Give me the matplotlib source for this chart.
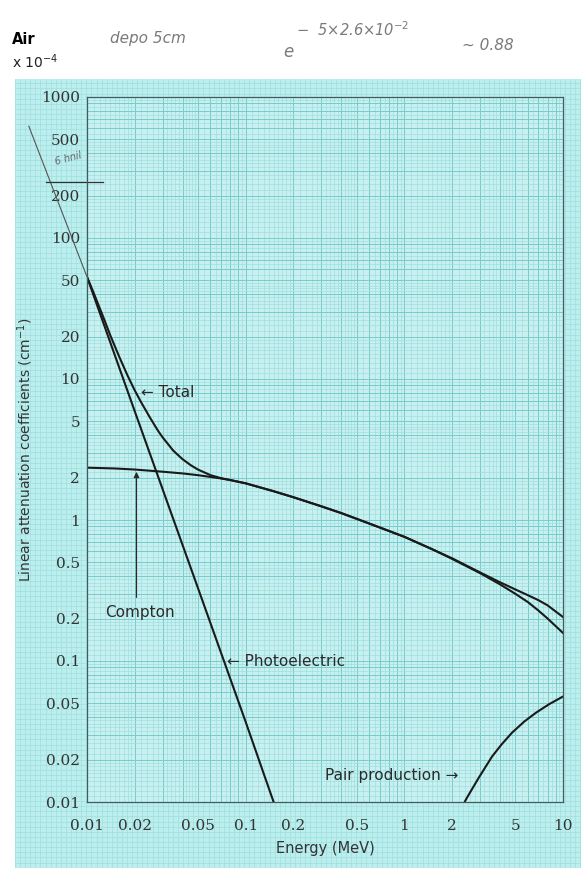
import numpy as np
import matplotlib
matplotlib.use('Agg')
import matplotlib.pyplot as plt

# curves (values x 10^-4 cm^-1)
total_e = [0.01, 0.011, 0.012, 0.013, 0.014, 0.015, 0.016, 0.018, 0.02, 0.022, 0.025, 0.028, 0.03,
           0.035, 0.04, 0.045, 0.05, 0.06, 0.07, 0.08, 0.1, 0.15, 0.2, 0.3, 0.4, 0.5, 0.7, 1, 1.5,
           2, 3, 4, 5, 6, 7, 8, 10]
total_mu = [53, 41, 32, 25.5, 20.5, 17, 14.3, 10.6, 8.3, 6.8, 5.3, 4.3, 3.85,
            3.1, 2.7, 2.45, 2.28, 2.08, 1.98, 1.92, 1.82, 1.6, 1.45, 1.25, 1.12, 1.02, 0.885, 0.76, 0.62,
            0.535, 0.425, 0.362, 0.322, 0.293, 0.27, 0.248, 0.205]

compton_e = [0.01, 0.015, 0.02, 0.03, 0.04, 0.05, 0.06, 0.07, 0.08, 0.1, 0.15, 0.2, 0.3, 0.4, 0.5,
             0.7, 1, 1.5, 2, 3, 4, 5, 6, 7, 8, 10]
compton_mu = [2.35, 2.32, 2.28, 2.2, 2.14, 2.08, 2.02, 1.97, 1.92, 1.82, 1.6, 1.45, 1.25, 1.12, 1.02,
              0.885, 0.76, 0.62, 0.53, 0.42, 0.35, 0.3, 0.262, 0.228, 0.2, 0.158]

photo_e = [0.01, 0.02, 0.05, 0.1, 0.15]
photo_mu = [53, 5.9, 0.33, 0.037, 0.01]

pair_e = [2.4, 2.49, 2.7, 2.96, 3.57, 4.1, 4.77, 5.7, 6.76, 8.2, 10]
pair_mu = [0.01, 0.0108, 0.0126, 0.015, 0.021, 0.0256, 0.031, 0.0372, 0.043, 0.0495, 0.056]

# pen marks outside the printed chart
pen_e = [0.0043, 0.01]
pen_mu = [620, 53]

xticks = [0.01, 0.02, 0.05, 0.1, 0.2, 0.5, 1, 2, 5, 10]
xlabels = ['0.01', '0.02', '0.05', '0.1', '0.2', '0.5', '1', '2', '5', '10']
yticks = [0.01, 0.02, 0.05, 0.1, 0.2, 0.5, 1, 2, 5, 10, 20, 50, 100, 200, 500, 1000]
ylabels = ['0.01', '0.02', '0.05', '0.1', '0.2', '0.5', '1', '2', '5', '10', '20', '50', '100', '200', '500', '1000']

paper = '#bdeeee'
fine = '#97dcdc'
strong = '#78cccc'

fig = plt.figure(figsize=(5.81, 8.72), dpi=100)

# graph paper background
bg = fig.add_axes([15/581, 0.005, 1 - 15/581, 1 - 79/872 - 0.005], zorder=-2)
bg.set_facecolor(paper)
bg.set_xlim(0, 1)
bg.set_ylim(0, 1)
bg.vlines(np.arange(0, 1, 0.009), 0, 1, color=fine, lw=0.4)
bg.hlines(np.arange(0, 1, 0.0065), 0, 1, color=fine, lw=0.4)
bg.set_xticks([])
bg.set_yticks([])
for s in bg.spines.values():
    s.set_visible(False)

ax = fig.add_axes([87/581, 1 - 802/872, (563 - 87)/581, (802 - 97)/872])
ax.set_facecolor('#c8f0f0')
ax.set_xscale('log')
ax.set_yscale('log')
ax.set_xlim(0.01, 10)
ax.set_ylim(0.01, 1000)

# log graph paper rulings
sub = list(np.arange(1.1, 2.0, 0.1)) + list(np.arange(2.2, 5.0, 0.2)) + list(np.arange(5.5, 10, 0.5))
for d in [0.01, 0.1, 1]:
    ax.vlines([d * s for s in sub], 0, 1, transform=ax.get_xaxis_transform(), color=fine, lw=0.4, zorder=0)
    ax.vlines([d * k for k in range(1, 10)], 0, 1, transform=ax.get_xaxis_transform(), color=strong, lw=0.7, zorder=0)
for d in [0.01, 0.1, 1, 10, 100]:
    ax.hlines([d * s for s in sub], 0, 1, transform=ax.get_yaxis_transform(), color=fine, lw=0.4, zorder=0)
    ax.hlines([d * k for k in range(1, 10)], 0, 1, transform=ax.get_yaxis_transform(), color=strong, lw=0.7, zorder=0)

ax.plot(total_e, total_mu, color='#1a1a1a', lw=1.5)
ax.plot(compton_e, compton_mu, color='#1a1a1a', lw=1.5)
ax.plot(photo_e, photo_mu, color='#1a1a1a', lw=1.5)
ax.plot(pair_e, pair_mu, color='#1a1a1a', lw=1.5)

# pen extension and mark
ax.plot(pen_e, pen_mu, color='#555555', lw=0.8, clip_on=False)
ax.plot([0.0055, 0.0126], [250, 250], color='#333333', lw=0.9, clip_on=False)
ax.text(0.0062, 330, '6 hnil', fontsize=7, color='#666666', style='italic', rotation=15, clip_on=False)

ax.set_xticks(xticks)
ax.set_xticklabels(xlabels)
ax.set_yticks(yticks)
ax.set_yticklabels(ylabels)
ax.minorticks_off()
ax.tick_params(length=0, pad=12, labelsize=11, labelcolor='#333333')
ax.tick_params(axis='y', pad=5)
for lab in ax.get_xticklabels() + ax.get_yticklabels():
    lab.set_family('DejaVu Serif')
for s in ax.spines.values():
    s.set_color('#3d5e5e')
    s.set_linewidth(0.9)

ax.set_xlabel('Energy (MeV)', fontsize=10.5, color='#333333', labelpad=6)
ax.set_ylabel('Linear attenuation coefficients (cm$^{-1}$)', fontsize=10, color='#333333', labelpad=4)

# curve annotations
ax.text(0.022, 8.0, '\u2190 Total', fontsize=11, color='#2a2a2a', va='center')
ax.annotate('', xy=(0.0205, 2.3), xytext=(0.0205, 0.27),
            arrowprops=dict(arrowstyle='-|>', color='#2a2a2a', lw=0.9, mutation_scale=8))
ax.text(0.0215, 0.22, 'Compton', fontsize=11, color='#2a2a2a', ha='center', va='center')
ax.text(0.076, 0.1, '\u2190 Photoelectric', fontsize=11, color='#2a2a2a', va='center')
ax.text(2.2, 0.0155, 'Pair production \u2192', fontsize=11, color='#2a2a2a', va='center', ha='right')

fig.text(12/581, 1 - 40/872, 'Air', fontsize=10.5, fontweight='bold', va='center')
fig.text(12/581, 1 - 62/872, 'x 10$^{-4}$', fontsize=10, va='center', color='#222222')

# handwritten notes at top
fig.text(110/581, 1 - 38/872, 'depo 5cm', fontsize=11, style='italic', color='#7a7a7a', va='center')
fig.text(283/581, 1 - 52/872, 'e', fontsize=12, style='italic', color='#7a7a7a', va='center')
fig.text(296/581, 1 - 30/872, '\u2212  5\u00d72.6\u00d710$^{-2}$', fontsize=10.5, style='italic', color='#7a7a7a', va='center')
fig.text(462/581, 1 - 46/872, '~ 0.88', fontsize=11, style='italic', color='#7a7a7a', va='center')

fig.savefig('out.png', dpi=100)
